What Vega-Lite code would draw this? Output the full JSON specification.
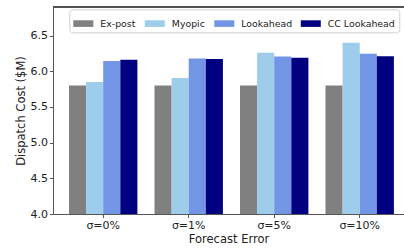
{
  "$schema": "https://vega.github.io/schema/vega-lite/v6.json",
  "autosize": {"type": "none"},
  "padding": {"left": 53, "top": 7, "right": 0, "bottom": 34},
  "width": 351,
  "height": 207,
  "background": "white",
  "config": {
    "font": "DejaVu Sans",
    "view": {"stroke": null},
    "axis": {"labelFont": "DejaVu Sans", "titleFont": "DejaVu Sans", "labelColor": "#222", "titleColor": "#222", "domainColor": "#555", "tickColor": "#555", "grid": false, "titleFontWeight": "normal"}
  },
  "data": {
    "values": [
      {"err": "σ=0%", "method": "Ex-post", "cost": 5.80},
      {"err": "σ=0%", "method": "Myopic", "cost": 5.85},
      {"err": "σ=0%", "method": "Lookahead", "cost": 6.145},
      {"err": "σ=0%", "method": "CC Lookahead", "cost": 6.16},
      {"err": "σ=1%", "method": "Ex-post", "cost": 5.80},
      {"err": "σ=1%", "method": "Myopic", "cost": 5.905},
      {"err": "σ=1%", "method": "Lookahead", "cost": 6.18},
      {"err": "σ=1%", "method": "CC Lookahead", "cost": 6.17},
      {"err": "σ=5%", "method": "Ex-post", "cost": 5.80},
      {"err": "σ=5%", "method": "Myopic", "cost": 6.26},
      {"err": "σ=5%", "method": "Lookahead", "cost": 6.205},
      {"err": "σ=5%", "method": "CC Lookahead", "cost": 6.19},
      {"err": "σ=10%", "method": "Ex-post", "cost": 5.80},
      {"err": "σ=10%", "method": "Myopic", "cost": 6.40},
      {"err": "σ=10%", "method": "Lookahead", "cost": 6.245},
      {"err": "σ=10%", "method": "CC Lookahead", "cost": 6.21}
    ]
  },
  "layer": [
    {
      "mark": {"type": "bar", "clip": true},
      "encoding": {
        "x": {
          "field": "err", "type": "nominal", "sort": ["σ=0%", "σ=1%", "σ=5%", "σ=10%"],
          "scale": {"paddingInner": 0.2, "paddingOuter": 0.1526, "align": 0.613},
          "axis": {"title": "Forecast Error", "labelAngle": 0, "labelFontSize": 11, "titleFontSize": 11.5, "tickSize": 3.5, "labelPadding": 2, "titlePadding": 3, "domainWidth": 1}
        },
        "xOffset": {
          "field": "method", "type": "nominal", "sort": ["Ex-post", "Myopic", "Lookahead", "CC Lookahead"],
          "scale": {"paddingInner": 0, "paddingOuter": 0}
        },
        "y": {
          "field": "cost", "type": "quantitative",
          "scale": {"domain": [4, 6.9], "nice": false, "zero": false},
          "axis": {"title": "Dispatch Cost ($M)", "values": [4.0, 4.5, 5.0, 5.5, 6.0, 6.5], "format": ".1f", "labelFontSize": 11, "titleFontSize": 11.5, "tickSize": 3.5, "labelPadding": 2, "titlePadding": 4, "domainWidth": 1}
        },
        "color": {
          "field": "method", "type": "nominal", "sort": ["Ex-post", "Myopic", "Lookahead", "CC Lookahead"],
          "scale": {"domain": ["Ex-post", "Myopic", "Lookahead", "CC Lookahead"], "range": ["#808080", "#9dcdea", "#7395e6", "#000080"]},
          "legend": {
            "title": null, "orient": "none", "direction": "horizontal", "columns": 4,
            "legendX": 16.3, "legendY": 2.3,
            "symbolType": "M-1,-0.33L1,-0.33L1,0.33L-1,0.33Z", "symbolSize": 400, "symbolStrokeWidth": 0,
            "labelFont": "DejaVu Sans", "labelFontSize": 9.4, "labelColor": "#222", "labelOffset": 7,
            "columnPadding": 8.5, "padding": 4, "fillColor": "white", "strokeColor": "#d0d0d0", "cornerRadius": 3
          }
        }
      }
    },
    {
      "mark": {"type": "rule", "color": "#555", "strokeWidth": 1},
      "encoding": {"y": {"datum": 6.9}}
    }
  ]
}
